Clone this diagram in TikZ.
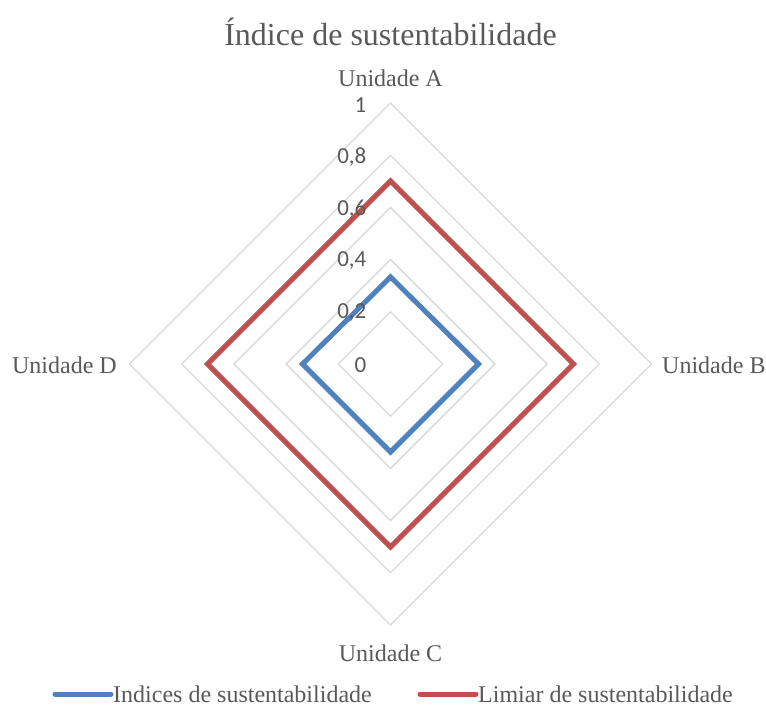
\documentclass[tikz,border=0pt]{standalone}
\usepackage{fontspec}
\setmainfont{Liberation Serif}
\newfontfamily\tickfont{Carlito}
\usepackage{tikz}

\definecolor{txtgray}{HTML}{595959}
\definecolor{gridgray}{HTML}{D9D9D9}
\definecolor{serblue}{HTML}{4F81BD}
\definecolor{serred}{HTML}{C0504D}

\begin{document}
\begin{tikzpicture}[x=1pt,y=-1pt,
  ring/.style={draw=gridgray,line width=1.3pt},
  serie/.style={line width=5pt,line join=miter},
  tick/.style={anchor=east,inner sep=0pt,text=txtgray,font=\tickfont\fontsize{23}{26}\selectfont},
  unidade/.style={inner sep=0pt,text=txtgray,font=\fontsize{24}{28}\selectfont}]
\useasboundingbox (0,0) rectangle (766,706);

% title
\node [unidade,font=\fontsize{32}{36}\selectfont] (titulo) at (390.5,32) {Índice de sustentabilidade};

\begin{scope}[shift={(390.5,364)}]
% grid
\draw [ring] (0,-52.2) -- (52.2,0) -- (0,52.2) -- (-52.2,0) -- cycle;
\draw [ring] (0,-104.4) -- (104.4,0) -- (0,104.4) -- (-104.4,0) -- cycle;
\draw [ring] (0,-156.6) -- (156.6,0) -- (0,156.6) -- (-156.6,0) -- cycle;
\draw [ring] (0,-208.8) -- (208.8,0) -- (0,208.8) -- (-208.8,0) -- cycle;
\draw [ring] (0,-261) -- (261,0) -- (0,261) -- (-261,0) -- cycle;

% series points
\coordinate (iA) at (0,-87);
\coordinate (iB) at (88,0);
\coordinate (iC) at (0,88);
\coordinate (iD) at (-88,0);
\coordinate (lA) at (0,-183);
\coordinate (lB) at (183,0);
\coordinate (lC) at (0,183);
\coordinate (lD) at (-183,0);

\draw [serie,serred] (lA) -- (lB) -- (lC) -- (lD) -- cycle;
\draw [serie,serblue] (iA) -- (iB) -- (iC) -- (iD) -- cycle;

% scale
\node [tick] (t0) at (-24,1) {0};
\node [tick] (t2) at (-24,-51) {0,2};
\node [tick] (t4) at (-24,-103) {0,4};
\node [tick] (t6) at (-24,-155) {0,6};
\node [tick] (t8) at (-24,-207) {0,8};
\node [tick] (t10) at (-24,-259) {1};
\end{scope}

% axes
\node [unidade] (uA) at (390.5,78) {Unidade A};
\node [unidade,anchor=west] (uB) at (662,365) {Unidade B};
\node [unidade] (uC) at (390.5,653) {Unidade C};
\node [unidade,anchor=east] (uD) at (117,365) {Unidade D};

% legend
\coordinate (b1) at (55,694);
\coordinate (b2) at (111,694);
\coordinate (r1) at (420,694);
\coordinate (r2) at (476,694);
\draw [serblue,line width=5pt,line cap=round] (b1) -- (b2);
\draw [serred,line width=5pt,line cap=round] (r1) -- (r2);
\node [unidade,anchor=west] (legI) at (113,694) {Indices de sustentabilidade};
\node [unidade,anchor=west] (legL) at (478,694) {Limiar de sustentabilidade};
\end{tikzpicture}
\end{document}
